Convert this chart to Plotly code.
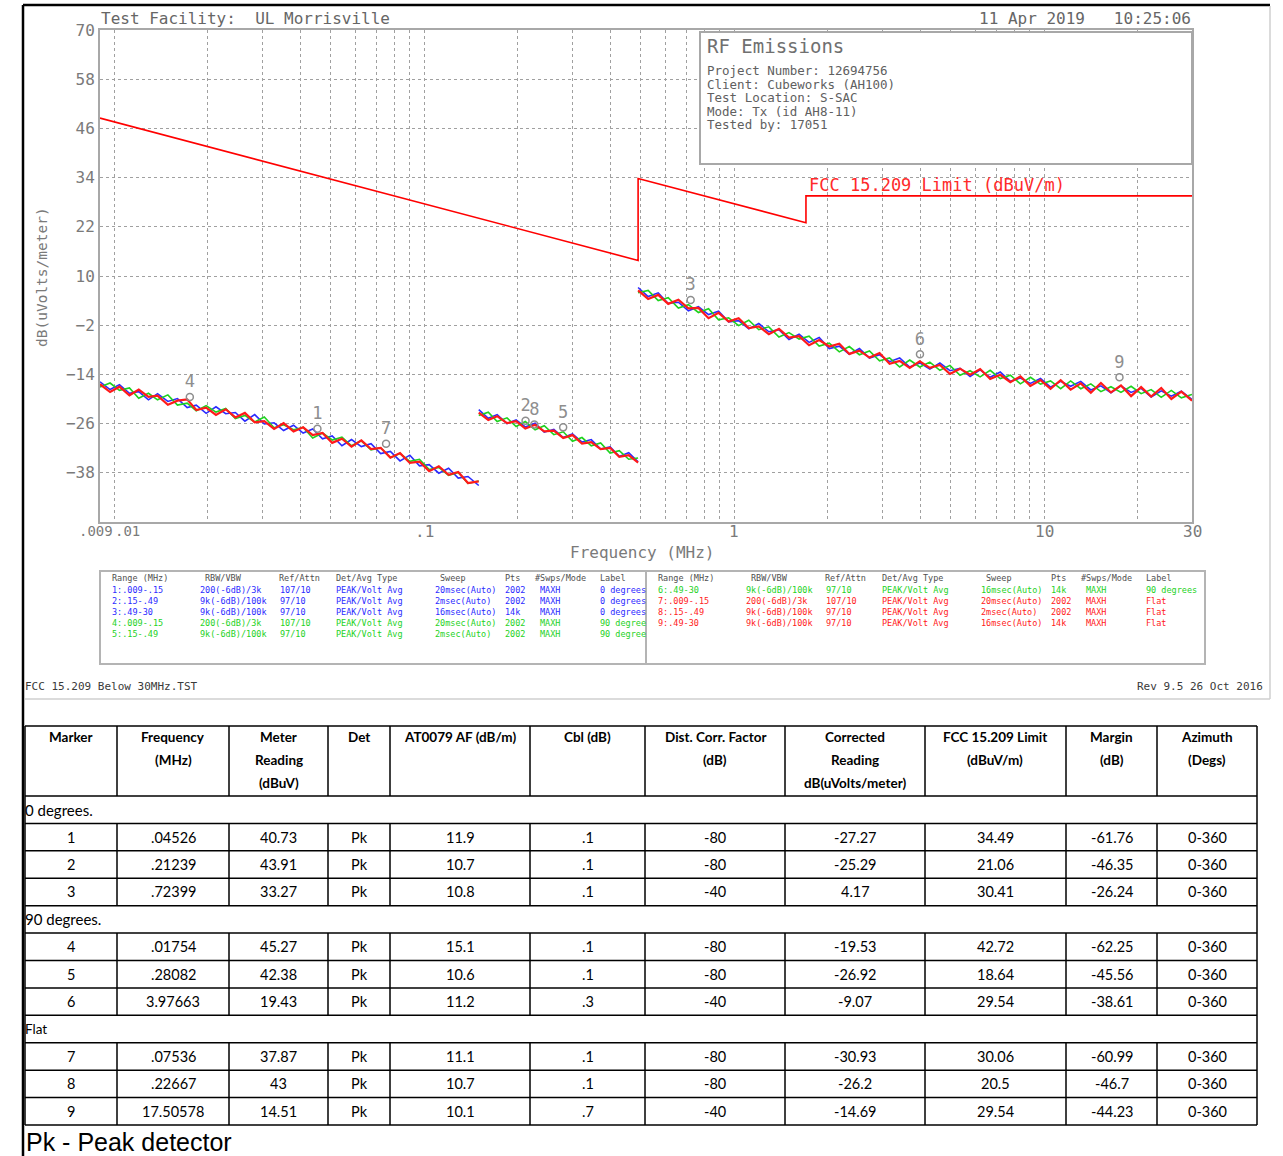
import math
import plotly.graph_objects as go

W, H = 1283, 1156
MONO = "DejaVu Sans Mono"
SANS = "Lato"

# ---------------- FCC 15.209 limit line (dBuV/m) ----------------
limit_freq = [0.009, 0.49, 0.49, 1.705, 1.705, 30.0]
limit_level = [48.52, 13.80, 33.80, 23.00, 29.54, 29.54]

# ---------------- sweep frequencies (MHz) per range ----------------
seg1_freq = [0.0090, 0.0097, 0.0104, 0.0112, 0.0120, 0.0129, 0.0138, 0.0149, 0.0160, 0.0172,
             0.0184, 0.0198, 0.0213, 0.0229, 0.0246, 0.0264, 0.0284, 0.0305, 0.0328, 0.0352,
             0.0379, 0.0407, 0.0437, 0.0470, 0.0505, 0.0543, 0.0583, 0.0627, 0.0674, 0.0724,
             0.0778, 0.0836, 0.0899, 0.0966, 0.1038, 0.1115, 0.1199, 0.1288, 0.1385, 0.1500]
seg2_freq = [0.150, 0.161, 0.172, 0.185, 0.198, 0.212, 0.228, 0.244, 0.262, 0.281,
             0.301, 0.323, 0.346, 0.371, 0.398, 0.426, 0.457, 0.490]
seg3_freq = [0.490, 0.528, 0.569, 0.613, 0.661, 0.712, 0.767, 0.827, 0.891, 0.960,
             1.034, 1.115, 1.201, 1.294, 1.395, 1.503, 1.620, 1.745, 1.881, 2.027,
             2.184, 2.353, 2.536, 2.733, 2.945, 3.173, 3.420, 3.685, 3.971, 4.279,
             4.611, 4.969, 5.355, 5.770, 6.218, 6.700, 7.220, 7.781, 8.384, 9.035,
             9.736, 10.49, 11.31, 12.18, 13.13, 14.15, 15.25, 16.43, 17.70, 19.08,
             20.56, 22.15, 23.87, 25.73, 27.72, 30.0]

# ---------------- measured levels dB(uV/m), MAXH traces ----------------
deg0_seg1 = [-15.8, -17.7, -16.5, -18.6, -18.2, -20.2, -18.7, -20.6, -19.9, -22.1,
             -21.5, -23.5, -21.9, -23.6, -23.3, -25.4, -23.8, -26.1, -25.8, -27.7,
             -26.4, -28.3, -27.3, -29.7, -29.0, -31.4, -29.9, -31.6, -30.9, -33.3,
             -32.8, -35.1, -33.7, -36.3, -36.0, -38.1, -36.9, -39.3, -38.9, -41.1]
deg90_seg1 = [-17.1, -16.1, -17.9, -17.3, -19.8, -18.6, -20.2, -19.0, -21.5, -21.0,
              -22.9, -21.6, -23.2, -22.3, -24.8, -24.0, -25.6, -24.4, -27.0, -26.3,
              -27.5, -26.9, -29.5, -28.3, -30.0, -29.3, -31.4, -30.2, -32.4, -31.9,
              -34.3, -33.3, -35.2, -34.7, -37.2, -36.7, -38.6, -37.9, -40.6, -40.0]
flat_seg1 = [-16.4, -18.3, -17.0, -19.1, -17.7, -19.5, -19.2, -21.4, -20.4, -20.1,
             -22.7, -22.1, -23.9, -22.5, -24.5, -23.4, -25.7, -25.4, -27.3, -25.9,
             -27.9, -26.9, -28.8, -28.3, -30.7, -29.7, -31.6, -30.1, -32.2, -31.9,
             -34.3, -33.2, -35.6, -35.3, -37.6, -36.4, -38.5, -37.8, -40.5, -40.1]

deg0_seg2 = [-22.6, -24.7, -23.8, -26.0, -25.1, -26.8, -25.9, -28.1, -27.4, -29.4,
             -28.5, -30.5, -29.9, -32.2, -31.7, -34.0, -33.1, -35.3]
deg90_seg2 = [-24.0, -23.2, -25.5, -24.6, -26.7, -25.5, -27.5, -26.5, -28.7, -28.0,
              -30.3, -29.4, -31.4, -30.7, -33.2, -32.6, -34.7, -34.4]
flat_seg2 = [-23.3, -25.1, -24.2, -25.9, -25.4, -27.2, -26.3, -27.9, -27.7, -29.5,
             -28.8, -30.9, -30.5, -32.2, -31.9, -34.1, -33.7, -35.5]

deg0_seg3 = [7.2, 5.0, 5.9, 3.3, 3.6, 1.5, 2.5, 0.6, 1.4, -1.2,
             -0.9, -2.9, -1.6, -3.6, -3.1, -5.5, -4.2, -6.2, -5.0, -7.7,
             -7.1, -9.1, -7.7, -10.0, -9.2, -10.9, -10.0, -12.2, -11.2, -12.7,
             -11.2, -13.1, -12.5, -14.5, -12.9, -14.7, -13.4, -15.7, -14.9, -16.2,
             -15.0, -17.1, -15.7, -16.9, -15.7, -17.8, -16.8, -18.5, -16.8, -18.4,
             -17.4, -19.5, -18.0, -19.3, -18.1, -20.1]
deg90_seg3 = [5.9, 6.5, 4.0, 4.7, 2.2, 3.0, 1.1, 2.0, -0.7, -0.2,
              -2.1, -0.8, -3.1, -2.4, -4.9, -3.8, -5.4, -4.7, -7.1, -6.4,
              -8.5, -7.2, -9.2, -8.3, -10.7, -10.0, -12.2, -10.5, -12.2, -11.0,
              -13.0, -11.8, -14.2, -13.1, -14.6, -13.0, -15.0, -14.2, -16.3, -14.7,
              -16.4, -15.6, -17.5, -15.6, -17.5, -16.3, -18.2, -17.0, -18.4, -16.9,
              -18.7, -17.7, -19.6, -17.9, -19.7, -18.9]
flat_seg3 = [6.5, 4.4, 5.4, 3.2, 4.2, 2.1, 2.2, -0.3, 1.0, -1.1,
             -0.3, -2.7, -2.3, -4.2, -2.9, -5.0, -4.7, -6.9, -5.6, -7.2,
             -6.5, -9.0, -8.2, -9.9, -8.8, -11.4, -10.7, -12.4, -10.8, -12.4,
             -11.7, -13.9, -12.6, -14.1, -12.7, -15.1, -14.1, -15.9, -14.5, -16.8,
             -15.4, -17.5, -15.4, -17.7, -16.2, -18.5, -16.1, -18.4, -16.7, -19.3,
             -17.1, -19.4, -17.3, -20.0, -18.2, -20.4]

# ---------------- marker table ----------------
marker_ids = ["1", "2", "3", "4", "5", "6", "7", "8", "9"]
marker_freq = [0.04526, 0.21239, 0.72399, 0.01754, 0.28082, 3.97663, 0.07536, 0.22667, 17.50578]
meter_reading = [40.73, 43.91, 33.27, 45.27, 42.38, 19.43, 37.87, 43, 14.51]
detector = ["Pk"] * 9
antenna_factor = [11.9, 10.7, 10.8, 15.1, 10.6, 11.2, 11.1, 10.7, 10.1]
cable_loss = [0.1, 0.1, 0.1, 0.1, 0.1, 0.3, 0.1, 0.1, 0.7]
dist_corr = [-80, -80, -40, -80, -80, -40, -80, -80, -40]
corrected = [-27.27, -25.29, 4.17, -19.53, -26.92, -9.07, -30.93, -26.2, -14.69]
fcc_limit = [34.49, 21.06, 30.41, 42.72, 18.64, 29.54, 30.06, 20.5, 29.54]
margin = [-61.76, -46.35, -26.24, -62.25, -45.56, -38.61, -60.99, -46.7, -44.23]
azimuth = ["0-360"] * 9
groups = [("0 degrees.", [0, 1, 2], 15), ("90 degrees.", [3, 4, 5], 15), ("Flat", [6, 7, 8], 13.5)]

header_lines = [["Marker"], ["Frequency", "(MHz)"], ["Meter", "Reading", "(dBuV)"], ["Det"],
                ["AT0079 AF (dB/m)"], ["Cbl (dB)"], ["Dist. Corr. Factor", "(dB)"],
                ["Corrected", "Reading", "dB(uVolts/meter)"], ["FCC 15.209 Limit", "(dBuV/m)"],
                ["Margin", "(dB)"], ["Azimuth", "(Degs)"]]

# ---------------- analyzer settings legend ----------------
setup_header = ["Range (MHz)", "RBW/VBW", "Ref/Attn", "Det/Avg Type", "Sweep", "Pts", "#Swps/Mode", "Label"]
setup_left = [
    ["1:.009-.15", "200(-6dB)/3k", "107/10", "PEAK/Volt Avg", "20msec(Auto)", "2002", "MAXH", "0 degrees"],
    ["2:.15-.49", "9k(-6dB)/100k", "97/10", "PEAK/Volt Avg", "2msec(Auto)", "2002", "MAXH", "0 degrees"],
    ["3:.49-30", "9k(-6dB)/100k", "97/10", "PEAK/Volt Avg", "16msec(Auto)", "14k", "MAXH", "0 degrees"],
    ["4:.009-.15", "200(-6dB)/3k", "107/10", "PEAK/Volt Avg", "20msec(Auto)", "2002", "MAXH", "90 degree"],
    ["5:.15-.49", "9k(-6dB)/100k", "97/10", "PEAK/Volt Avg", "2msec(Auto)", "2002", "MAXH", "90 degree"],
]
setup_right = [
    ["6:.49-30", "9k(-6dB)/100k", "97/10", "PEAK/Volt Avg", "16msec(Auto)", "14k", "MAXH", "90 degrees"],
    ["7:.009-.15", "200(-6dB)/3k", "107/10", "PEAK/Volt Avg", "20msec(Auto)", "2002", "MAXH", "Flat"],
    ["8:.15-.49", "9k(-6dB)/100k", "97/10", "PEAK/Volt Avg", "2msec(Auto)", "2002", "MAXH", "Flat"],
    ["9:.49-30", "9k(-6dB)/100k", "97/10", "PEAK/Volt Avg", "16msec(Auto)", "14k", "MAXH", "Flat"],
]
setup_left_colors = ["blue", "blue", "blue", "green", "green"]
setup_right_colors = ["green", "red", "red", "red"]

COLORS = {"blue": "#2b2bff", "green": "#1ed21e", "red": "#ff1a1a"}
GREY_TXT = "#7a7a7a"
NB = "\u00a0"


def px(x):
    return x / W


def py(y):
    return 1 - y / H


def joined(parts):
    out = []
    for i, p in enumerate(parts):
        if i:
            out.append(None)
        out.extend(p)
    return out


def fmt(v):
    s = str(v)
    if s.startswith("0."):
        s = s[1:]
    elif s.startswith("-0."):
        s = "-" + s[2:]
    return s


fig = go.Figure()

sweep_x = joined([seg1_freq, seg2_freq, seg3_freq])
for name, parts, color, width in [
    ("0 degrees", [deg0_seg1, deg0_seg2, deg0_seg3], COLORS["blue"], 1.6),
    ("90 degrees", [deg90_seg1, deg90_seg2, deg90_seg3], COLORS["green"], 1.6),
    ("Flat", [flat_seg1, flat_seg2, flat_seg3], COLORS["red"], 2.2),
]:
    fig.add_trace(go.Scatter(x=sweep_x, y=joined(parts), mode="lines", name=name,
                             line=dict(color=color, width=width), hoverinfo="skip"))

fig.add_trace(go.Scatter(x=limit_freq, y=limit_level, mode="lines", name="FCC 15.209 Limit",
                         line=dict(color="#ff0000", width=1.6), hoverinfo="skip"))

fig.add_trace(go.Scatter(x=marker_freq, y=corrected, mode="markers+text", text=marker_ids,
                         textposition="top center",
                         textfont=dict(family=MONO, size=17, color="#8e8e8e"),
                         marker=dict(symbol="circle-open", size=7, color="#8e8e8e",
                                     line=dict(width=1.5, color="#8e8e8e")),
                         hoverinfo="skip"))

shapes = []
annotations = []


def text(x, y, s, size, color="#000000", family=SANS, anchor="center", xref="paper", bold=False, angle=0):
    annotations.append(dict(
        x=x if xref != "paper" else px(x), y=py(y), xref=xref, yref="paper",
        text=(f"<b>{s}</b>" if bold else s).replace(" ", NB), showarrow=False,
        xanchor=anchor, yanchor="middle", textangle=angle,
        font=dict(family=family, size=size, color=color), borderpad=0))


def line(x0, y0, x1, y1, color="#000000", width=1.5):
    shapes.append(dict(type="line", xref="paper", yref="paper",
                       x0=px(x0), y0=py(y0), x1=px(x1), y1=py(y1),
                       line=dict(color=color, width=width)))


def rect(x0, y0, x1, y1, color, width=2, fill="rgba(0,0,0,0)", layer="above"):
    shapes.append(dict(type="rect", xref="paper", yref="paper", layer=layer,
                       x0=px(x0), y0=py(y0), x1=px(x1), y1=py(y1),
                       line=dict(color=color, width=width), fillcolor=fill))


# page frame
line(23, 5, 1270, 5, "#000000", 2.5)
line(23, 5, 23, 1156, "#000000", 2.5)
line(25, 699, 1270, 699, "#cfcfcf", 1.5)
line(1270, 6, 1270, 699, "#cfcfcf", 1.5)

# chart header
text(100, 19, "Test Facility:  UL Morrisville", 16, "#666666", MONO, "left")
text(1192, 19, "11 Apr 2019   10:25:06", 16, "#666666", MONO, "right")

# project info box
rect(700, 32, 1192, 164, "#a8a8a8", 2, "#ffffff")
text(706, 46, "RF Emissions", 19, "#707070", MONO, "left")
for i, s in enumerate(["Project Number: 12694756", "Client: Cubeworks (AH100)",
                       "Test Location: S-SAC", "Mode: Tx (id AH8-11)", "Tested by: 17051"]):
    text(706, 70.5 + 13.6 * i, s, 12.5, "#606060", MONO, "left")

# limit label
annotations.append(dict(x=math.log10(1.72), y=32.3, xref="x", yref="y",
                        text="FCC 15.209 Limit (dBuV/m)".replace(" ", NB), showarrow=False,
                        xanchor="left", yanchor="middle",
                        font=dict(family=MONO, size=17, color="#ff2a2a")))

# x tick labels (start frequency sits just left of the first decade label)
text(math.log10(0.01), 531, ".009", 14, GREY_TXT, MONO, "right", xref="x")
text(math.log10(0.01), 531, ".01", 14, GREY_TXT, MONO, "left", xref="x")
for val, lab in [(0.1, ".1"), (1, "1"), (10, "10"), (30, "30")]:
    text(math.log10(val), 531, lab, 16, GREY_TXT, MONO, "center", xref="x")

text(643, 552, "Frequency (MHz)", 16, GREY_TXT, MONO)
text(42, 277, "dB(uVolts/meter)", 14.5, GREY_TXT, MONO, angle=-90)

# analyzer settings box
rect(100, 571, 1205, 664, "#b4b4b4", 2)
line(646, 571, 646, 664, "#b4b4b4", 2)
hdr_x = [111, 204, 278, 335, 439, 504, 534, 599]
row_x = [111, 199, 279, 335, 434, 504, 539, 599]
shift = 546
for k, h in enumerate(setup_header):
    text(hdr_x[k], 578, h, 8.5, "#505050", MONO, "left")
    text(hdr_x[k] + shift, 578, h, 8.5, "#505050", MONO, "left")
for r, (row, c) in enumerate(zip(setup_left, setup_left_colors)):
    for k, s in enumerate(row):
        text(row_x[k], 589.5 + 11.1 * r, s, 8.5, COLORS[c], MONO, "left")
for r, (row, c) in enumerate(zip(setup_right, setup_right_colors)):
    for k, s in enumerate(row):
        text(row_x[k] + shift, 589.5 + 11.1 * r, s, 8.5, COLORS[c], MONO, "left")

# footer
text(24, 686, "FCC 15.209 Below 30MHz.TST", 11, "#3a3a3a", MONO, "left")
text(1264, 686, "Rev 9.5 26 Oct 2016", 11, "#3a3a3a", MONO, "right")

# ---------------- results table ----------------
col_edges = [25, 117, 229, 328, 390, 530, 645, 785, 925, 1066, 1157, 1257]
col_mid = [(a + b) / 2 for a, b in zip(col_edges[:-1], col_edges[1:])]
top, head_bot = 726, 796
row_h = (1125 - head_bot) / 12

line(col_edges[0], top, col_edges[-1], top)
line(col_edges[0], top, col_edges[0], 1125)
line(col_edges[-1], top, col_edges[-1], 1125)
for xe in col_edges[1:-1]:
    line(xe, top, xe, head_bot)
for c, lines_ in enumerate(header_lines):
    for j, s in enumerate(lines_):
        text(col_mid[c], 737 + 23 * j, s, 13.5, "#000000", SANS, bold=True)

y = head_bot
for label, idx, size in groups:
    line(col_edges[0], y, col_edges[-1], y)
    text(24, y + row_h / 2, label, size, "#000000", SANS, "left")
    y += row_h
    block_top = y
    for i in idx:
        line(col_edges[0], y, col_edges[-1], y)
        cells = [marker_ids[i], fmt(marker_freq[i]), fmt(meter_reading[i]), detector[i],
                 fmt(antenna_factor[i]), fmt(cable_loss[i]), fmt(dist_corr[i]),
                 fmt(corrected[i]), fmt(fcc_limit[i]), fmt(margin[i]), azimuth[i]]
        for c, s in enumerate(cells):
            text(col_mid[c], y + row_h / 2, s, 14.5, "#000000", SANS)
        y += row_h
    for xe in col_edges[1:-1]:
        line(xe, block_top, xe, y)
line(col_edges[0], y, col_edges[-1], y)

text(25, 1142, "Pk - Peak detector", 25, "#000000", "Liberation Sans", "left")

grid_x = [m * 10 ** e for e in (-2, -1, 0) for m in range(1, 10)] + [10, 20]

fig.update_layout(
    width=W, height=H, autosize=False, template="none",
    margin=dict(l=0, r=0, t=0, b=0, pad=0),
    paper_bgcolor="#ffffff", plot_bgcolor="#ffffff", showlegend=False,
    xaxis=dict(type="log", range=[math.log10(0.009), math.log10(30)],
               domain=[px(100), px(1192)], anchor="y",
               tickvals=grid_x, showticklabels=False, ticks="",
               showgrid=True, gridcolor="#a0a0a0", griddash="dot", gridwidth=1,
               showline=True, linecolor="#a8a8a8", linewidth=2, mirror=True,
               zeroline=False, automargin=False, fixedrange=True),
    yaxis=dict(range=[-50, 70], domain=[py(522), py(30)], anchor="x",
               tickvals=[-38, -26, -14, -2, 10, 22, 34, 46, 58, 70],
               tickfont=dict(family=MONO, size=16, color=GREY_TXT), ticks="",
               showgrid=True, gridcolor="#a0a0a0", griddash="dot", gridwidth=1,
               showline=True, linecolor="#a8a8a8", linewidth=2, mirror=True,
               zeroline=False, automargin=False, fixedrange=True),
    shapes=shapes, annotations=annotations,
)

fig.write_html("out.html")
